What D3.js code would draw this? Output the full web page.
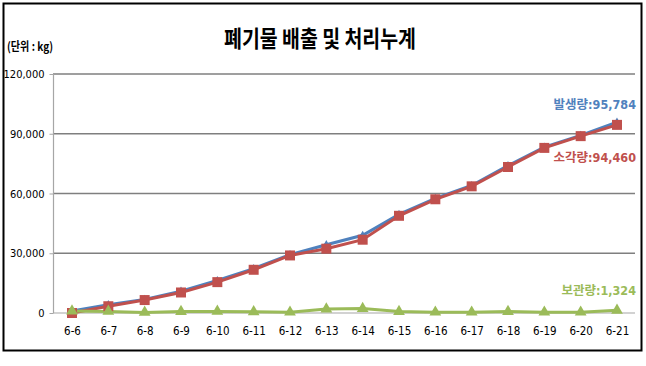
<!DOCTYPE html>
<html><head><meta charset="utf-8">
<script src="https://cdn.jsdelivr.net/npm/d3@7"></script>
<style>body{margin:0;background:#fff}svg{display:block}</style>
</head><body>
<svg id="c" width="646" height="366"></svg>
<script>
const categories = ["6-6","6-7","6-8","6-9","6-10","6-11","6-12","6-13","6-14","6-15","6-16","6-17","6-18","6-19","6-20","6-21"];
const generated = [1000, 4200, 6800, 11000, 16300, 22300, 29300, 34300, 39000, 49500, 57500, 64000, 74000, 83300, 89200, 95784];
const incinerated = [0, 3400, 6500, 10300, 15500, 21700, 28900, 32300, 36800, 48800, 57100, 63600, 73300, 82900, 88800, 94460];
const stored = [1000, 800, 300, 700, 800, 600, 400, 2000, 2200, 700, 400, 400, 700, 400, 400, 1324];
const yTicks = [0, 30000, 60000, 90000, 120000];

const svg = d3.select("#c");
const font = "'Noto Sans CJK KR',sans-serif";
const numFont = "'DejaVu Sans Condensed','Noto Sans CJK KR',sans-serif";
svg.append("rect").attr("x",3.5).attr("y",3.5).attr("width",638).attr("height",347)
  .attr("fill","#fff").attr("stroke","#000").attr("stroke-width",2);

const x = d3.scalePoint().domain(categories).range([72,617]);
const y = d3.scaleLinear().domain([0,120000]).range([313,74]);

// gridlines
svg.append("g").selectAll("line").data(yTicks.filter(d=>d>0)).join("line")
  .attr("x1",53).attr("x2",635).attr("y1",d=>y(d)).attr("y2",d=>y(d))
  .attr("stroke","#7f7f7f").attr("stroke-width",1.3);
svg.append("line").attr("x1",53).attr("x2",635).attr("y1",y(0)).attr("y2",y(0)).attr("stroke","#a6a6a6").attr("stroke-width",1.2);
svg.append("line").attr("x1",53.5).attr("x2",53.5).attr("y1",y(120000)).attr("y2",y(0)).attr("stroke","#a6a6a6").attr("stroke-width",1.2);

const yAxis = d3.axisLeft(y).tickValues(yTicks).tickSize(4).tickFormat(d3.format(","));
const ga = svg.append("g").attr("transform","translate(53.5,0)").call(yAxis);
ga.select(".domain").remove();
ga.selectAll(".tick line").attr("stroke","#a6a6a6");
ga.selectAll(".tick text").attr("font-family",numFont).attr("font-size",11).attr("fill","#000").attr("x",-9);

const xAxis = d3.axisBottom(x).tickSize(0).tickPadding(14);
const gx = svg.append("g").attr("transform",`translate(0,${y(0)})`).call(xAxis);
gx.select(".domain").remove();
gx.selectAll(".tick text").attr("font-family",numFont).attr("font-size",11.5).attr("fill","#000");

const line = d3.line().x((d,i)=>x(categories[i])).y(d=>y(d));
const series = [
  {v:generated, c:"#4f81bd", m:"diamond"},
  {v:incinerated, c:"#c0504d", m:"square"},
  {v:stored, c:"#9bbb59", m:"triangle"}
];
series.forEach(s=>{
  svg.append("path").attr("d",line(s.v)).attr("fill","none").attr("stroke",s.c).attr("stroke-width",3);
});
series.forEach(s=>{
  const sym = d3.symbol().type(s.m==="square"?d3.symbolSquare:s.m==="triangle"?d3.symbolTriangle:d3.symbolDiamond)
    .size(s.m==="square"?100:s.m==="triangle"?60:25);
  svg.append("g").selectAll("path").data(s.v).join("path")
    .attr("d",sym).attr("transform",(d,i)=>`translate(${x(categories[i])},${y(d)})`).attr("fill",s.c);
});

// title
svg.append("text").attr("x",320).attr("y",47).attr("text-anchor","middle")
  .attr("font-family",font).attr("font-weight","bold").attr("font-size",23)
  .attr("textLength",192).attr("lengthAdjust","spacingAndGlyphs").text("폐기물 배출 및 처리누계");
svg.append("text").attr("x",7).attr("y",51).attr("font-family",font).attr("font-size",12).attr("font-weight","bold")
  .attr("textLength",46).attr("lengthAdjust","spacingAndGlyphs").text("(단위 : kg)");

const endLabels = [
  {t:"발생량:"+d3.format(",")(generated[15]), c:"#4f81bd", y:109},
  {t:"소각량:"+d3.format(",")(incinerated[15]), c:"#c0504d", y:162},
  {t:"보관량:"+d3.format(",")(stored[15]), c:"#9bbb59", y:295}
];
svg.append("g").selectAll("text").data(endLabels).join("text")
  .attr("x",636).attr("y",d=>d.y).attr("text-anchor","end").attr("fill",d=>d.c)
  .attr("font-family",numFont).attr("font-size",12.5).attr("font-weight","bold").text(d=>d.t);
</script>
</body></html>
